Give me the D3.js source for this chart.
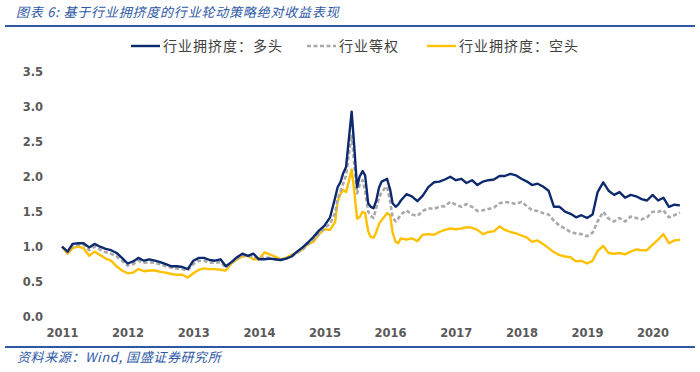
<!DOCTYPE html>
<html>
<head>
<meta charset="utf-8">
<script src="https://cdn.jsdelivr.net/npm/d3@7"></script>
<style>
  body { margin: 0; background: #fff; }
  #chart { width: 700px; height: 372px; }
</style>
</head>
<body>
<div id="chart"></div>
<script>
// dates: monthly, half-monthly around the 2015 spike, then monthly again
const datesBefore = d3.timeMonth.range(new Date(2011, 0, 1), new Date(2015, 2, 1));
const datesSpike = d3.timeMonth.range(new Date(2015, 2, 1), new Date(2016, 2, 1))
  .flatMap(d => [d, new Date(d.getFullYear(), d.getMonth(), 15)])
  .concat([new Date(2016, 2, 1)]);
const datesAfter = d3.timeMonth.range(new Date(2016, 3, 1), new Date(2020, 6, 1));
const dates = datesBefore.concat(datesSpike, datesAfter);

const yearTicks = [2011, 2012, 2013, 2014, 2015, 2016, 2017, 2018, 2019, 2020];
const yTicks = [0, 0.5, 1.0, 1.5, 2.0, 2.5, 3.0, 3.5];

const seriesNames = ["行业拥挤度：多头", "行业等权", "行业拥挤度：空头"];

const longValues = [
  1.00,0.93,1.04,1.05,1.05,0.99,1.04,1.00,0.97,0.95,
  0.91,0.84,0.76,0.79,0.84,0.80,0.82,0.80,0.78,0.75,
  0.72,0.72,0.71,0.68,0.80,0.84,0.84,0.81,0.80,0.82,
  0.72,0.78,0.85,0.90,0.87,0.90,0.82,0.82,0.83,0.82,
  0.81,0.83,0.86,0.93,0.99,1.06,1.14,1.23,1.30,1.42,
  // half-monthly 2015-03 .. 2016-03
  1.70,1.85,1.93,2.05,2.14,2.50,2.93,2.45,1.85,2.00,
  2.08,2.02,1.62,1.57,1.55,1.65,1.85,1.93,1.95,1.97,
  1.82,1.62,1.57,1.60,1.66,
  1.75,1.72,1.65,1.73,1.85,1.92,1.93,1.96,2.00,1.95,
  1.97,1.91,1.95,1.88,1.93,1.95,1.96,2.01,2.01,2.04,
  2.02,1.97,1.93,1.88,1.90,1.86,1.80,1.57,1.57,1.50,
  1.47,1.42,1.45,1.41,1.46,1.78,1.92,1.80,1.74,1.78,
  1.70,1.74,1.72,1.68,1.66,1.74,1.66,1.70,1.57,1.60,
  1.59
];

const equalValues = [
  1.00,0.92,1.01,1.03,1.03,0.95,1.00,0.96,0.92,0.90,
  0.86,0.80,0.73,0.75,0.80,0.77,0.78,0.77,0.75,0.72,
  0.70,0.69,0.68,0.66,0.75,0.80,0.80,0.77,0.77,0.78,
  0.70,0.77,0.83,0.88,0.86,0.87,0.82,0.85,0.84,0.82,
  0.81,0.83,0.86,0.91,0.96,1.03,1.10,1.18,1.26,1.33,
  1.48,1.68,1.80,1.90,2.02,2.30,2.60,2.20,1.76,1.88,
  1.95,1.80,1.50,1.44,1.41,1.55,1.70,1.78,1.83,1.86,
  1.65,1.42,1.36,1.40,1.46,
  1.52,1.46,1.44,1.51,1.55,1.54,1.57,1.58,1.64,1.60,
  1.57,1.61,1.57,1.51,1.52,1.54,1.56,1.62,1.64,1.63,
  1.61,1.64,1.58,1.52,1.51,1.48,1.46,1.37,1.30,1.26,
  1.21,1.19,1.18,1.15,1.20,1.36,1.50,1.40,1.36,1.41,
  1.36,1.43,1.41,1.39,1.42,1.50,1.50,1.52,1.42,1.45,
  1.49
];

const shortValues = [
  1.00,0.90,0.98,1.00,0.98,0.87,0.93,0.88,0.83,0.80,
  0.72,0.66,0.62,0.63,0.68,0.65,0.66,0.66,0.64,0.63,
  0.61,0.60,0.60,0.56,0.62,0.67,0.69,0.68,0.68,0.67,
  0.66,0.76,0.82,0.86,0.87,0.82,0.82,0.92,0.89,0.86,
  0.82,0.84,0.88,0.92,0.96,1.04,1.07,1.18,1.25,1.24,
  1.35,1.65,1.76,1.81,1.78,1.92,2.10,1.80,1.40,1.42,
  1.50,1.48,1.22,1.14,1.13,1.20,1.33,1.38,1.43,1.48,
  1.45,1.20,1.07,1.05,1.12,
  1.10,1.12,1.08,1.17,1.18,1.17,1.21,1.24,1.26,1.25,
  1.26,1.28,1.27,1.24,1.18,1.21,1.22,1.29,1.24,1.21,
  1.19,1.16,1.13,1.07,1.09,1.04,0.98,0.92,0.88,0.86,
  0.85,0.79,0.80,0.76,0.80,0.94,1.01,0.91,0.90,0.91,
  0.89,0.93,0.96,0.95,0.95,1.03,1.10,1.18,1.05,1.09,
  1.10
];

const colors = { long: "#0e2a6e", equal: "#a9a9a9", short: "#ffc000", blue: "#2e58a6", text: "#404040", tick: "#595959" };

const w = 700, h = 372;
const svg = d3.select("#chart")
  .append("svg")
  .attr("width", w)
  .attr("height", h);

const xScale = d3.scaleTime()
  .domain([new Date(2011, 0, 1), new Date(2020, 0, 1)])
  .range([62, 652.6]);

const yScale = d3.scaleLinear()
  .domain([0, 3.5])
  .range([316.7, 71.7]);

// title + rules
svg.append("text")
  .attr("x", 16).attr("y", 17)
  .attr("font-family", "'Noto Sans CJK SC', sans-serif")
  .attr("font-size", 13)
  .attr("font-style", "italic")
  .attr("letter-spacing", 0.8)
  .attr("fill", colors.blue)
  .text("图表 6:  基于行业拥挤度的行业轮动策略绝对收益表现");

svg.append("line")
  .attr("x1", 5).attr("x2", 695).attr("y1", 26).attr("y2", 26)
  .attr("stroke", colors.blue).attr("stroke-width", 2);

svg.append("line")
  .attr("x1", 5).attr("x2", 695).attr("y1", 347).attr("y2", 347)
  .attr("stroke", colors.blue).attr("stroke-width", 2);

svg.append("text")
  .attr("x", 17).attr("y", 362)
  .attr("font-family", "'Noto Sans CJK SC', sans-serif")
  .attr("font-size", 13)
  .attr("font-style", "italic")
  .attr("letter-spacing", 0.6)
  .attr("fill", colors.blue)
  .text("资料来源：Wind, 国盛证券研究所");

// axes
const yAxis = svg.append("g")
  .attr("transform", "translate(47,0)")
  .call(d3.axisLeft(yScale).tickValues(yTicks).tickSize(0).tickPadding(4).tickFormat(d3.format(".1f")));

const xAxis = svg.append("g")
  .attr("transform", `translate(0,${yScale(0)})`)
  .call(d3.axisBottom(xScale)
    .tickValues(yearTicks.map(y => new Date(y, 0, 1)))
    .tickSize(0).tickPadding(12)
    .tickFormat(d3.timeFormat("%Y")));

[yAxis, xAxis].forEach(g => {
  g.select(".domain").remove();
  g.selectAll("text")
    .attr("font-family", "'DejaVu Sans', Verdana, sans-serif")
    .attr("font-size", 11.5)
    .attr("font-weight", "bold")
    .attr("fill", colors.tick);
});

// lines
const series = [
  { key: "long", values: longValues, color: colors.long, dash: null, width: 2.4 },
  { key: "equal", values: equalValues, color: colors.equal, dash: "4,2.5", width: 2.6 },
  { key: "short", values: shortValues, color: colors.short, dash: null, width: 2.4 }
];

const line = d3.line()
  .x((d, i) => xScale(dates[i]))
  .y(d => yScale(d))
  .curve(d3.curveLinear);

// draw order: short, equal, long on top
[series[2], series[1], series[0]].forEach(s => {
  svg.append("path")
    .datum(s.values)
    .attr("fill", "none")
    .attr("stroke", s.color)
    .attr("stroke-width", s.width)
    .attr("stroke-dasharray", s.dash)
    .attr("stroke-linejoin", "round")
    .attr("d", line);
});

// legend
const legendItems = [
  { name: seriesNames[0], s: series[0], x: 131 },
  { name: seriesNames[1], s: series[1], x: 307 },
  { name: seriesNames[2], s: series[2], x: 427 }
];

const legend = svg.append("g").attr("transform", "translate(0,46)");
legendItems.forEach(it => {
  legend.append("line")
    .attr("x1", it.x).attr("x2", it.x + 29)
    .attr("y1", 0).attr("y2", 0)
    .attr("stroke", it.s.color)
    .attr("stroke-width", it.s.width)
    .attr("stroke-dasharray", it.s.dash);
  legend.append("text")
    .attr("x", it.x + 32).attr("y", 0)
    .attr("dy", "0.36em")
    .attr("font-family", "'Noto Sans CJK SC', sans-serif")
    .attr("font-size", 14)
    .attr("letter-spacing", 1)
    .attr("fill", colors.text)
    .text(it.name);
});
</script>
</body>
</html>
